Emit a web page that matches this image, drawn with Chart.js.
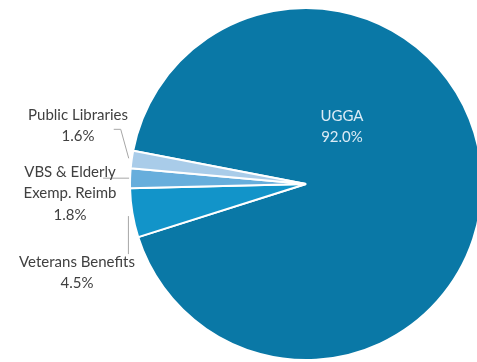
<!DOCTYPE html>
<html>
<head>
<meta charset="utf-8">
<script src="https://cdn.jsdelivr.net/npm/chart.js@4"></script>
<style>
    html, body { margin: 0; padding: 0; background: #fff; overflow: hidden; }
    #wrap { position: absolute; left: 0; top: 0; width: 612px; height: 362px; }
</style>
</head>
<body>
<div id="wrap"><canvas id="pieChart" width="612" height="362"></canvas></div>
<script>
// Data
const categories = ['UGGA', 'Veterans Benefits', 'VBS & Elderly Exemp. Reimb', 'Public Libraries'];
const shares = [92.0, 4.5, 1.8, 1.6];
const sliceColors = ['#0a78a6', '#1294c9', '#67aedc', '#a9cce9'];

// Label text lines for each slice (last line is the value)
const labelLines = [
    ['UGGA'],
    ['Veterans Benefits'],
    ['VBS & Elderly', 'Exemp. Reimb'],
    ['Public Libraries']
];

// Label placement: text centre x, first line y, leader line points relative to the slice edge
const labelLayout = [
    { x: 342, y: 116, color: '#dcebf5', leader: null },
    { x: 77, y: 262, color: '#404040', leader: { from: [-3, 3], pts: [[-3, 41]] } },
    { x: 70, y: 172, color: '#404040', leader: { from: [0, 0], pts: [[-26, 0]] } },
    { x: 78, y: 115, color: '#404040', leader: { from: [-2, -1], pts: [[-10, -30], [-17, -30]] } }
];

const pieLabels = {
    id: 'pieLabels',
    afterDatasetsDraw(chart) {
        const ctx = chart.ctx;
        const meta = chart.getDatasetMeta(0);
        ctx.save();
        ctx.font = '15px Lato, "Open Sans", sans-serif';
        ctx.textAlign = 'center';
        ctx.textBaseline = 'middle';
        meta.data.forEach((arc, i) => {
            const p = arc.getProps(['x', 'y', 'startAngle', 'endAngle', 'outerRadius'], true);
            const mid = (p.startAngle + p.endAngle) / 2;
            const ex = p.x + Math.cos(mid) * (p.outerRadius + 1);
            const ey = p.y + Math.sin(mid) * (p.outerRadius + 1);
            const lay = labelLayout[i];

            if (lay.leader) {
                ctx.strokeStyle = '#a6a6a6';
                ctx.lineWidth = 1;
                ctx.beginPath();
                ctx.moveTo(ex + lay.leader.from[0], ey + lay.leader.from[1]);
                lay.leader.pts.forEach(pt => ctx.lineTo(ex + pt[0], ey + pt[1]));
                ctx.stroke();
            }

            const lines = labelLines[i].concat([shares[i].toFixed(1) + '%']);
            ctx.fillStyle = lay.color;
            lines.forEach((t, k) => ctx.fillText(t, lay.x, lay.y + k * 21.5));
        });
        ctx.restore();
    }
};

new Chart(document.getElementById('pieChart').getContext('2d'), {
    type: 'pie',
    data: {
        labels: categories,
        datasets: [{
            data: shares,
            backgroundColor: sliceColors,
            borderColor: '#ffffff',
            borderWidth: 2
        }]
    },
    options: {
        responsive: false,
        animation: false,
        devicePixelRatio: 1,
        rotation: -79.1,
        layout: { padding: { left: 129, right: 129, top: 7, bottom: 1 } },
        plugins: {
            legend: { display: false },
            tooltip: { enabled: false }
        }
    },
    plugins: [pieLabels]
});
</script>
</body>
</html>
